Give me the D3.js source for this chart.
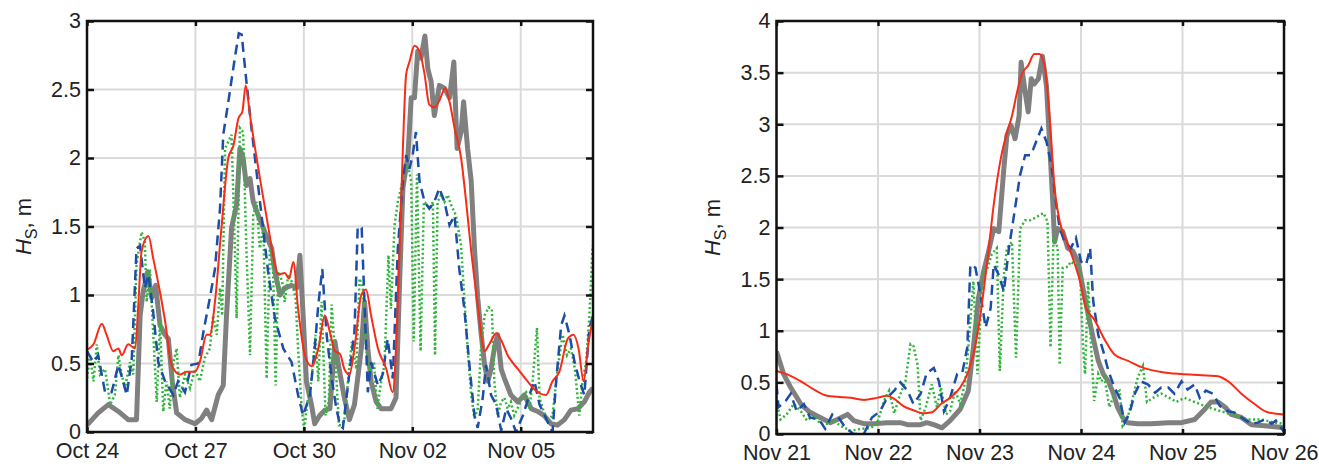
<!DOCTYPE html>
<html>
<head>
<meta charset="utf-8">
<script src="https://cdnjs.cloudflare.com/ajax/libs/d3/7.8.5/d3.min.js"></script>
<style>
  body { margin: 0; background: #fff; }
  svg { display: block; font-family: "Liberation Sans", Arial, Helvetica, sans-serif; }
</style>
</head>
<body>
<div class="chart"></div>
<script>
// ---- data: [days since panel start, Hs in m] ----
// October storm panel (start Oct 24)
var octObs = [[0,0.05],[0.31,0.14],[0.59,0.20],[0.87,0.15],[1.14,0.09],[1.37,0.09],[1.47,0.85],[1.55,1.02],[1.68,1.17],[1.79,0.98],[1.9,1.07],[2.02,0.78],[2.16,0.71],[2.25,0.68],[2.36,0.37],[2.48,0.14],[2.71,0.09],[2.99,0.06],[3.17,0.10],[3.31,0.16],[3.45,0.09],[3.63,0.27],[3.77,0.34],[3.86,0.85],[4.0,1.49],[4.14,1.66],[4.23,2.07],[4.32,2.0],[4.41,1.80],[4.51,1.85],[4.6,1.68],[4.74,1.58],[4.92,1.46],[5.11,1.34],[5.2,1.17],[5.34,1.0],[5.47,1.05],[5.66,1.07],[5.8,1.05],[5.89,1.29],[5.98,0.85],[6.07,0.37],[6.21,0.20],[6.3,0.06],[6.44,0.12],[6.58,0.16],[6.72,0.17],[6.86,0.66],[6.95,0.50],[7.12,0.25],[7.26,0.09],[7.4,0.20],[7.59,0.61],[7.68,0.95],[7.77,0.61],[7.86,0.37],[8.0,0.22],[8.14,0.17],[8.41,0.17],[8.55,0.25],[8.65,1.10],[8.74,1.78],[8.88,2.02],[8.97,2.44],[9.06,2.44],[9.15,2.78],[9.24,2.73],[9.35,2.89],[9.43,2.65],[9.52,2.56],[9.61,2.31],[9.75,2.53],[9.89,2.51],[10.03,2.44],[10.15,2.70],[10.24,2.07],[10.35,2.19],[10.42,2.41],[10.53,2.07],[10.63,1.83],[10.72,1.34],[10.81,0.98],[10.9,0.73],[11.0,0.49],[11.09,0.37],[11.18,0.46],[11.27,0.61],[11.36,0.71],[11.46,0.46],[11.55,0.39],[11.73,0.27],[11.92,0.22],[12.1,0.27],[12.29,0.17],[12.47,0.15],[12.65,0.12],[12.84,0.06],[13.02,0.05],[13.21,0.09],[13.39,0.16],[13.58,0.17],[13.76,0.22],[13.9,0.29],[14.0,0.32]];

var octRed = [[0,0.60],[0.18,0.64],[0.41,0.79],[0.54,0.71],[0.73,0.59],[0.87,0.61],[0.96,0.56],[1.14,0.64],[1.33,0.61],[1.42,0.93],[1.51,1.32],[1.70,1.43],[1.83,1.27],[2.02,1.02],[2.16,0.81],[2.34,0.49],[2.57,0.42],[2.76,0.44],[2.99,0.44],[3.12,0.51],[3.31,0.71],[3.40,0.71],[3.54,0.95],[3.72,1.49],[3.91,2.0],[4.05,2.09],[4.19,2.29],[4.3,2.34],[4.39,2.53],[4.51,2.31],[4.65,2.07],[4.83,1.78],[5.02,1.49],[5.2,1.22],[5.29,1.15],[5.47,1.16],[5.59,1.12],[5.71,1.24],[5.84,0.90],[6.03,0.56],[6.21,0.48],[6.40,0.61],[6.58,0.85],[6.72,0.73],[6.86,0.59],[7.0,0.57],[7.12,0.46],[7.26,0.42],[7.4,0.61],[7.59,1.0],[7.72,1.04],[7.86,0.85],[8.05,0.61],[8.28,0.46],[8.46,0.29],[8.55,0.61],[8.65,1.34],[8.74,2.07],[8.83,2.61],[8.92,2.70],[9.06,2.82],[9.2,2.78],[9.34,2.61],[9.47,2.39],[9.61,2.37],[9.75,2.42],[9.91,2.51],[10.03,2.41],[10.17,2.22],[10.35,2.0],[10.49,1.68],[10.63,1.32],[10.81,0.93],[11.0,0.59],[11.13,0.64],[11.32,0.72],[11.46,0.67],[11.64,0.56],[11.92,0.46],[12.19,0.37],[12.47,0.29],[12.7,0.27],[12.88,0.37],[13.07,0.44],[13.3,0.68],[13.46,0.71],[13.6,0.61],[13.74,0.37],[13.87,0.64],[14.0,0.83]];

var octBlue = [[0,0.59],[0.18,0.51],[0.31,0.56],[0.5,0.29],[0.68,0.29],[0.87,0.49],[1.1,0.27],[1.24,0.54],[1.37,1.34],[1.47,1.36],[1.6,1.05],[1.7,1.15],[1.83,0.88],[1.97,0.51],[2.16,0.37],[2.39,0.27],[2.52,0.37],[2.71,0.29],[2.89,0.49],[3.08,0.50],[3.22,0.73],[3.4,0.98],[3.54,1.19],[3.68,1.63],[3.77,2.17],[3.91,2.41],[4.09,2.73],[4.2,2.91],[4.28,2.90],[4.41,2.56],[4.55,2.22],[4.69,1.90],[4.83,1.58],[5.01,1.17],[5.2,0.83],[5.43,0.61],[5.66,0.51],[5.84,0.27],[5.98,0.12],[6.17,0.27],[6.3,0.61],[6.4,0.93],[6.51,1.19],[6.63,0.71],[6.77,0.39],[6.9,0.17],[7.0,0.05],[7.08,0.03],[7.22,0.34],[7.4,0.73],[7.49,1.50],[7.6,1.49],[7.68,0.93],[7.77,0.29],[7.86,0.51],[8.05,0.34],[8.18,0.42],[8.32,0.68],[8.46,0.39],[8.6,1.34],[8.74,1.83],[8.83,2.02],[8.92,1.92],[9.01,2.02],[9.1,2.19],[9.2,1.83],[9.34,1.68],[9.47,1.63],[9.61,1.68],[9.75,1.78],[9.89,1.68],[10.03,1.51],[10.17,1.58],[10.3,1.19],[10.44,0.90],[10.58,0.49],[10.72,0.12],[10.81,0.03],[10.95,0.25],[11.04,0.49],[11.18,0.27],[11.32,0.20],[11.46,0.01],[11.6,0.17],[11.73,0.10],[11.87,0.0],[12.06,0.12],[12.24,0.27],[12.38,0.37],[12.52,0.20],[12.7,0.10],[12.88,0.0],[12.98,0.37],[13.12,0.78],[13.21,0.85],[13.35,0.71],[13.49,0.51],[13.63,0.37],[13.76,0.27],[13.9,0.76],[14.0,0.85]];

var octGreen = [[0,0.39],[0.08,0.56],[0.18,0.37],[0.27,0.64],[0.36,0.42],[0.5,0.46],[0.64,0.20],[0.77,0.27],[0.87,0.56],[0.96,0.42],[1.05,0.32],[1.19,0.51],[1.28,0.42],[1.37,1.22],[1.51,1.46],[1.6,1.39],[1.65,0.95],[1.74,1.19],[1.83,0.73],[1.93,0.22],[2.02,0.81],[2.11,0.15],[2.2,0.37],[2.29,0.17],[2.39,0.51],[2.48,0.61],[2.57,0.25],[2.71,0.42],[2.85,0.32],[2.99,0.46],[3.12,0.37],[3.26,0.54],[3.4,0.61],[3.49,0.85],[3.59,0.71],[3.68,1.05],[3.74,0.85],[3.82,2.07],[3.91,2.12],[4.0,2.17],[4.09,1.34],[4.14,0.83],[4.23,2.22],[4.32,2.19],[4.41,1.34],[4.51,0.56],[4.6,1.58],[4.69,1.68],[4.78,1.34],[4.88,1.49],[4.97,0.39],[5.06,1.34],[5.15,1.17],[5.22,0.34],[5.29,1.17],[5.4,1.10],[5.47,0.95],[5.57,1.15],[5.66,1.10],[5.77,0.98],[5.84,0.61],[5.94,0.17],[6.01,0.01],[6.1,0.22],[6.21,0.37],[6.32,0.71],[6.4,0.37],[6.49,0.95],[6.6,0.12],[6.69,0.22],[6.77,0.93],[6.88,0.49],[6.97,0.05],[7.03,0.05],[7.12,0.08],[7.22,0.37],[7.33,0.66],[7.45,0.46],[7.54,1.12],[7.63,1.05],[7.72,0.61],[7.82,0.44],[7.94,0.51],[8.03,0.17],[8.14,0.37],[8.23,0.49],[8.34,1.29],[8.41,0.90],[8.51,1.51],[8.6,1.68],[8.69,1.78],[8.78,1.90],[8.88,1.95],[8.97,1.83],[9.04,0.66],[9.13,1.88],[9.23,0.59],[9.32,1.68],[9.41,1.66],[9.5,1.63],[9.57,1.68],[9.63,0.56],[9.7,1.68],[9.8,1.73],[9.89,1.68],[9.98,1.73],[10.07,1.66],[10.21,1.58],[10.35,1.36],[10.44,0.98],[10.53,0.61],[10.63,0.27],[10.72,0.10],[10.81,0.17],[10.9,0.61],[11.0,0.85],[11.11,0.91],[11.2,0.90],[11.27,0.37],[11.36,0.12],[11.46,0.22],[11.55,0.25],[11.64,0.17],[11.73,0.22],[11.82,0.12],[11.96,0.20],[12.06,0.27],[12.15,0.29],[12.24,0.17],[12.33,0.37],[12.45,0.76],[12.52,0.25],[12.61,0.17],[12.75,0.08],[12.88,0.12],[13.02,0.46],[13.16,0.71],[13.28,0.56],[13.39,0.61],[13.5,0.46],[13.62,0.12],[13.71,0.37],[13.81,0.51],[13.9,0.85],[13.99,1.36]];

// November storm panel (start Nov 21)
var novObs = [[0,0.80],[0.07,0.58],[0.14,0.45],[0.24,0.29],[0.33,0.21],[0.43,0.16],[0.53,0.11],[0.6,0.14],[0.7,0.19],[0.76,0.13],[0.86,0.10],[0.96,0.10],[1.09,0.11],[1.22,0.11],[1.29,0.09],[1.42,0.09],[1.48,0.11],[1.55,0.09],[1.63,0.06],[1.71,0.13],[1.81,0.24],[1.89,0.42],[1.94,0.84],[1.99,1.32],[2.04,1.57],[2.09,1.77],[2.14,1.99],[2.19,1.96],[2.24,2.57],[2.27,2.89],[2.31,2.99],[2.35,2.86],[2.39,3.08],[2.41,3.60],[2.45,3.31],[2.48,3.12],[2.51,3.44],[2.54,3.39],[2.58,3.44],[2.62,3.66],[2.66,3.37],[2.69,2.83],[2.72,2.28],[2.74,1.86],[2.77,1.99],[2.82,1.96],[2.87,1.80],[2.92,1.77],[2.97,1.67],[3.02,1.41],[3.07,1.16],[3.12,0.93],[3.17,0.71],[3.22,0.58],[3.27,0.51],[3.32,0.39],[3.36,0.26],[3.41,0.16],[3.46,0.11],[3.56,0.10],[3.69,0.10],[3.86,0.11],[3.99,0.11],[4.12,0.14],[4.22,0.24],[4.28,0.31],[4.35,0.31],[4.42,0.26],[4.48,0.19],[4.58,0.16],[4.68,0.09],[4.81,0.08],[5.0,0.06]];

var novRed = [[0,0.61],[0.1,0.58],[0.24,0.51],[0.37,0.43],[0.5,0.37],[0.6,0.36],[0.73,0.35],[0.86,0.33],[0.99,0.35],[1.09,0.37],[1.16,0.34],[1.25,0.27],[1.35,0.23],[1.45,0.20],[1.53,0.21],[1.62,0.29],[1.71,0.35],[1.81,0.45],[1.88,0.58],[1.94,0.77],[2.01,1.16],[2.08,1.70],[2.14,2.22],[2.21,2.67],[2.27,2.92],[2.32,3.08],[2.37,3.31],[2.42,3.49],[2.48,3.57],[2.54,3.68],[2.59,3.68],[2.64,3.57],[2.69,3.08],[2.74,2.38],[2.79,2.06],[2.86,1.86],[2.92,1.70],[2.99,1.48],[3.05,1.22],[3.13,1.11],[3.23,0.92],[3.33,0.77],[3.46,0.71],[3.59,0.65],[3.79,0.60],[3.99,0.58],[4.19,0.57],[4.35,0.56],[4.45,0.51],[4.58,0.39],[4.71,0.29],[4.84,0.21],[5.0,0.19]];

var novBlue = [[0,0.48],[0.02,0.26],[0.09,0.32],[0.14,0.39],[0.2,0.22],[0.27,0.29],[0.33,0.16],[0.42,0.14],[0.48,0.05],[0.55,0.19],[0.61,0.16],[0.68,0.06],[0.76,0.0],[0.86,0.0],[0.94,0.16],[1.02,0.22],[1.09,0.35],[1.16,0.42],[1.22,0.50],[1.29,0.42],[1.35,0.29],[1.42,0.39],[1.48,0.59],[1.55,0.64],[1.6,0.51],[1.65,0.22],[1.71,0.35],[1.78,0.58],[1.83,0.59],[1.88,0.84],[1.91,1.64],[1.96,1.61],[2.01,1.35],[2.06,1.03],[2.11,1.22],[2.14,1.64],[2.19,1.54],[2.24,1.38],[2.29,1.80],[2.34,2.12],[2.4,2.51],[2.45,2.70],[2.5,2.70],[2.53,2.76],[2.61,2.96],[2.66,2.83],[2.71,2.60],[2.76,2.19],[2.79,1.99],[2.84,1.86],[2.9,1.80],[2.95,1.90],[3.0,1.67],[3.05,1.64],[3.09,1.80],[3.12,1.29],[3.17,0.96],[3.22,0.80],[3.27,0.61],[3.33,0.45],[3.38,0.35],[3.43,0.11],[3.48,0.21],[3.53,0.39],[3.59,0.51],[3.66,0.48],[3.73,0.40],[3.79,0.45],[3.86,0.45],[3.92,0.39],[3.99,0.51],[4.05,0.43],[4.12,0.48],[4.17,0.35],[4.23,0.42],[4.3,0.39],[4.37,0.27],[4.45,0.22],[4.51,0.21],[4.61,0.14],[4.68,0.10],[4.74,0.11],[4.81,0.14],[4.88,0.10],[4.92,0.13],[5.0,0.02]];

var novGreen = [[0,0.32],[0.04,0.14],[0.1,0.19],[0.17,0.29],[0.24,0.22],[0.3,0.13],[0.37,0.18],[0.43,0.10],[0.5,0.10],[0.56,0.13],[0.63,0.08],[0.73,0.03],[0.83,0.05],[0.93,0.06],[0.99,0.10],[1.06,0.32],[1.11,0.42],[1.16,0.20],[1.21,0.36],[1.27,0.51],[1.32,0.87],[1.35,0.85],[1.39,0.67],[1.42,0.13],[1.47,0.26],[1.53,0.48],[1.58,0.26],[1.62,0.45],[1.67,0.19],[1.71,0.22],[1.76,0.42],[1.81,0.29],[1.86,0.51],[1.89,0.84],[1.94,1.48],[1.98,0.58],[2.03,1.54],[2.08,1.61],[2.12,1.74],[2.17,1.80],[2.2,0.61],[2.24,1.54],[2.27,1.80],[2.32,1.86],[2.36,0.74],[2.4,1.99],[2.45,2.07],[2.5,2.07],[2.54,2.09],[2.63,2.14],[2.67,2.06],[2.7,0.84],[2.73,1.93],[2.77,1.80],[2.79,0.67],[2.82,1.61],[2.87,1.62],[2.9,1.67],[2.94,1.64],[2.99,1.61],[3.02,0.84],[3.04,0.58],[3.07,1.48],[3.1,0.84],[3.13,0.32],[3.17,0.58],[3.2,0.51],[3.23,0.55],[3.28,0.26],[3.33,0.39],[3.38,0.42],[3.41,0.08],[3.46,0.16],[3.51,0.35],[3.56,0.55],[3.61,0.66],[3.65,0.31],[3.71,0.35],[3.79,0.39],[3.89,0.34],[3.94,0.31],[4.02,0.35],[4.12,0.31],[4.25,0.26],[4.38,0.22],[4.51,0.18],[4.65,0.14],[4.78,0.14],[4.91,0.11],[5.0,0.10]];

// axis ticks
var octTickDays = [0, 3, 6, 9, 12];
var novTickDays = [0, 1, 2, 3, 4, 5];
var octYTicks = [0, 0.5, 1, 1.5, 2, 2.5, 3];
var novYTicks = [0, 0.5, 1, 1.5, 2, 2.5, 3, 3.5, 4];

var svgWidth = 1319;
var svgHeight = 466;
var DAY = 864e5;

var svg = d3.select(".chart")
    .append("svg")
    .attr("width", svgWidth)
    .attr("height", svgHeight);

var panels = [
    { id: "oct", start: Date.UTC(2015, 9, 24), days: 14, tickDays: octTickDays, yTicks: octYTicks, yMax: 3,
      left: 87, right: 593, top: 21, bottom: 432, labelX: 31,
      series: { obs: octObs, red: octRed, blue: octBlue, green: octGreen } },
    { id: "nov", start: Date.UTC(2015, 10, 21), days: 5, tickDays: novTickDays, yTicks: novYTicks, yMax: 4,
      left: 776.5, right: 1284, top: 21, bottom: 434, labelX: 720,
      series: { obs: novObs, red: novRed, blue: novBlue, green: novGreen } }
];

var fmt = d3.utcFormat("%b %d");

panels.forEach(function (p) {
    var x = d3.scaleUtc()
        .domain([new Date(p.start), new Date(p.start + p.days * DAY)])
        .range([p.left, p.right]);
    var y = d3.scaleLinear()
        .domain([0, p.yMax])
        .range([p.bottom, p.top]);

    var xTicks = p.tickDays.map(d => new Date(p.start + d * DAY));

    var g = svg.append("g");

    g.append("clipPath")
        .attr("id", "clip-" + p.id)
        .append("rect")
        .attr("x", p.left)
        .attr("y", p.top)
        .attr("width", p.right - p.left)
        .attr("height", p.bottom - p.top);

    // grid
    g.append("g").selectAll("line")
        .data(xTicks)
        .enter().append("line")
        .attr("x1", d => x(d)).attr("x2", d => x(d))
        .attr("y1", p.top).attr("y2", p.bottom)
        .attr("stroke", "#dadada")
        .attr("stroke-width", 2);
    g.append("g").selectAll("line")
        .data(p.yTicks)
        .enter().append("line")
        .attr("x1", p.left).attr("x2", p.right)
        .attr("y1", d => y(d)).attr("y2", d => y(d))
        .attr("stroke", "#dadada")
        .attr("stroke-width", 2);

    var line = d3.line()
        .x(d => x(new Date(p.start + d[0] * DAY)))
        .y(d => y(d[1]));

    var plot = g.append("g").attr("clip-path", "url(#clip-" + p.id + ")");

    plot.append("path")
        .datum(p.series.obs)
        .attr("d", line)
        .attr("fill", "none")
        .attr("stroke", "#808080")
        .attr("stroke-width", 5)
        .attr("stroke-linejoin", "round");

    plot.append("path")
        .datum(p.series.green)
        .attr("d", line)
        .attr("fill", "none")
        .attr("stroke", "#2fb53a")
        .attr("stroke-width", 2.5)
        .attr("stroke-dasharray", "2,2.5");

    plot.append("path")
        .datum(p.series.blue)
        .attr("d", line)
        .attr("fill", "none")
        .attr("stroke", "#1c4ea6")
        .attr("stroke-width", 2.5)
        .attr("stroke-dasharray", "10,6");

    plot.append("path")
        .datum(p.series.red)
        .attr("d", line.curve(d3.curveMonotoneX))
        .attr("fill", "none")
        .attr("stroke", "#fa2b16")
        .attr("stroke-width", 2);

    // axes, MATLAB style: ticks inward on all four sides
    var axes = [
        { a: d3.axisBottom(x).tickValues(xTicks).tickFormat(fmt).tickSizeInner(-5).tickPadding(11), t: `translate(0,${p.bottom})` },
        { a: d3.axisTop(x).tickValues(xTicks).tickFormat("").tickSizeInner(-5), t: `translate(0,${p.top})` },
        { a: d3.axisLeft(y).tickValues(p.yTicks).tickFormat(d3.format("")).tickSizeInner(-7).tickPadding(6), t: `translate(${p.left},0)` },
        { a: d3.axisRight(y).tickValues(p.yTicks).tickFormat("").tickSizeInner(-7), t: `translate(${p.right},0)` }
    ];
    axes.forEach(function (ax) {
        var ag = g.append("g")
            .attr("transform", ax.t)
            .call(ax.a.tickSizeOuter(0));
        ag.select(".domain").remove();
        ag.selectAll(".tick line").attr("stroke", "#111").attr("stroke-width", 2.5);
        ag.selectAll("text")
            .attr("fill", "#222")
            .style("font-size", "21.5px")
            .style("font-family", "'Liberation Sans', Arial, sans-serif");
    });

    g.append("rect")
        .attr("x", p.left)
        .attr("y", p.top)
        .attr("width", p.right - p.left)
        .attr("height", p.bottom - p.top)
        .attr("fill", "none")
        .attr("stroke", "#111")
        .attr("stroke-width", 2.5);

    // y label  H_S, m
    var lab = g.append("text")
        .attr("transform", `translate(${p.labelX},${(p.top + p.bottom) / 2}) rotate(-90)`)
        .attr("text-anchor", "middle")
        .attr("fill", "#222")
        .style("font-size", "22px");
    lab.append("tspan").style("font-style", "italic").text("H");
    lab.append("tspan").attr("dy", 6).style("font-size", "16px").text("S");
    lab.append("tspan").attr("dy", -6).text(", m");
});
</script>
</body>
</html>
